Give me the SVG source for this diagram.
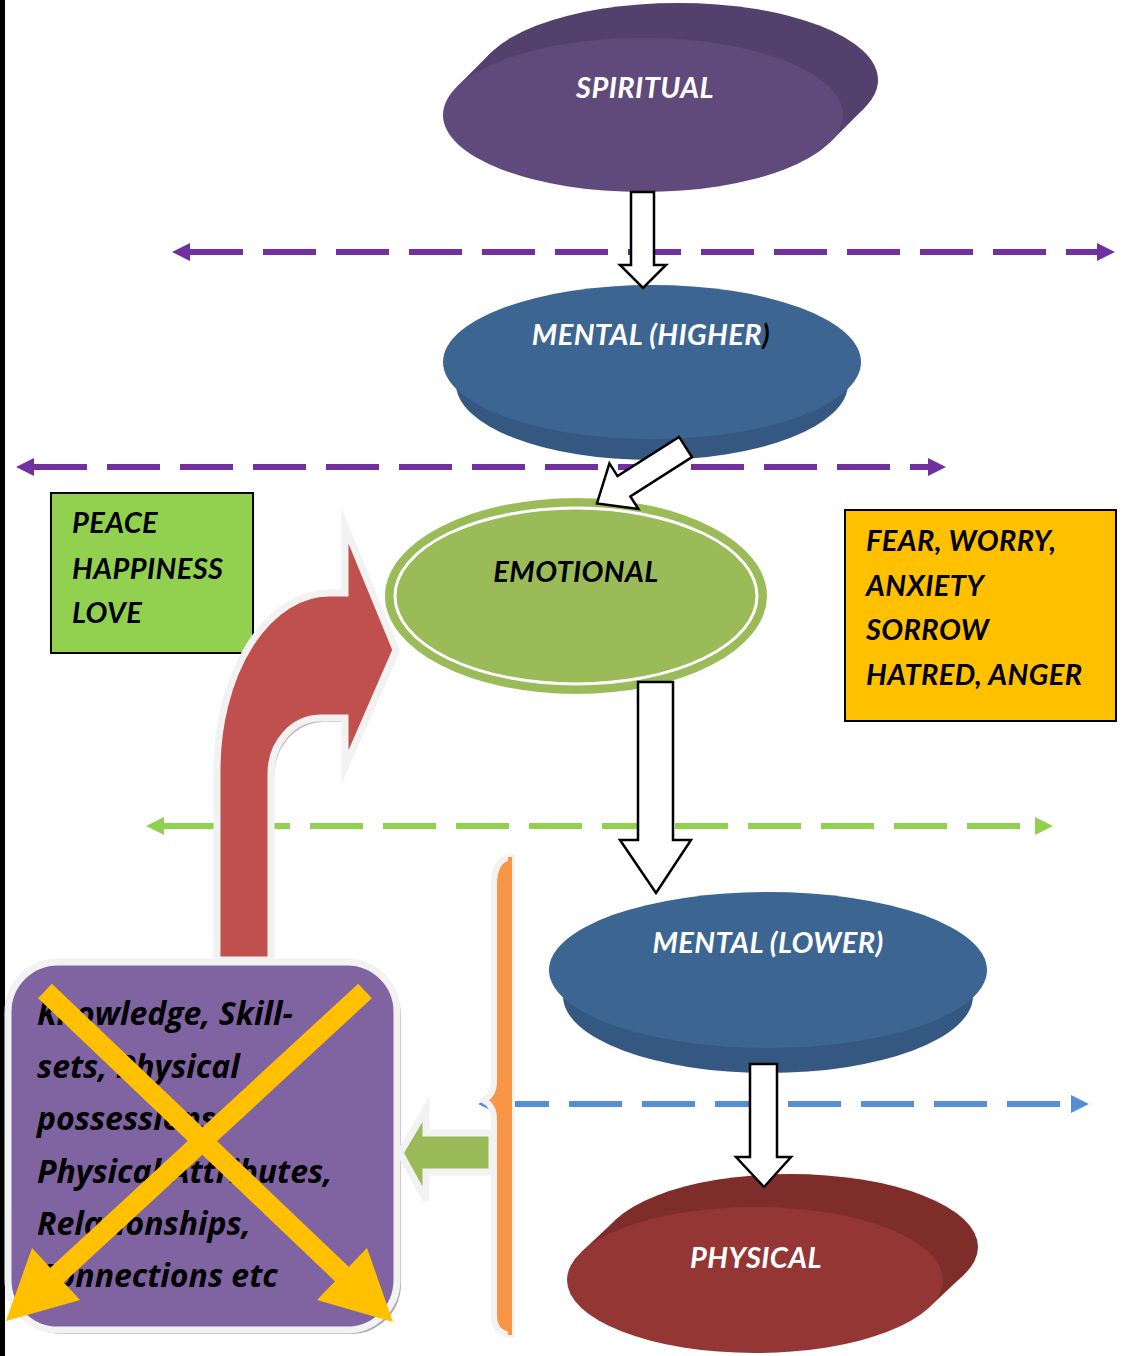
<svg xmlns="http://www.w3.org/2000/svg" width="1123" height="1356" viewBox="0 0 1123 1356">
<style>
.lbl{font-family:Lato,"Liberation Sans",sans-serif;font-weight:700;font-style:italic;font-size:29px;letter-spacing:0.4px}
.body{font-family:"Open Sans","Liberation Sans",sans-serif;font-weight:700;font-style:italic;font-size:32px}
.w{fill:#ffffff}
.k{fill:#000000}
.dash{fill:none;stroke-width:6;stroke-dasharray:53 20}
.blk{fill:#ffffff;stroke:#000000;stroke-width:2.5;stroke-linejoin:miter}
.box{stroke:#000000;stroke-width:2}
</style>
<defs>
<marker id="ahP" markerUnits="userSpaceOnUse" markerWidth="20" markerHeight="20" refX="0" refY="9" orient="auto-start-reverse"><path d="M0,0 L18,9 L0,18 Z" fill="#7030a0"/></marker>
<marker id="ahG" markerUnits="userSpaceOnUse" markerWidth="20" markerHeight="20" refX="0" refY="9" orient="auto-start-reverse"><path d="M0,0 L18,9 L0,18 Z" fill="#92d050"/></marker>
<marker id="ahB" markerUnits="userSpaceOnUse" markerWidth="20" markerHeight="20" refX="0" refY="9" orient="auto-start-reverse"><path d="M0,0 L18,9 L0,18 Z" fill="#558ed5"/></marker>
</defs>
<rect x="0" y="0" width="1123" height="1356" fill="#ffffff"/>
<rect x="0" y="0" width="5" height="1356" fill="#000000"/>

<g id="connectors-dashed">
<line class="dash" x1="190" y1="252" x2="1097" y2="252" stroke="#7030a0" marker-start="url(#ahP)" marker-end="url(#ahP)"/>
<line class="dash" x1="34" y1="467" x2="928" y2="467" stroke="#7030a0" marker-start="url(#ahP)" marker-end="url(#ahP)"/>
<line class="dash" x1="164" y1="826" x2="1035" y2="826" stroke="#92d050" marker-start="url(#ahG)" marker-end="url(#ahG)"/>
<line class="dash" x1="496" y1="1104" x2="1071" y2="1104" stroke="#558ed5" marker-start="url(#ahB)" marker-end="url(#ahB)"/>
</g>

<g id="spiritual">
<ellipse cx="678" cy="80" rx="200" ry="77" fill="#54406c"/>
<polygon points="829.6,142.7 864.6,107.7 491.4,52.3 456.4,87.3" fill="#54406c"/>
<ellipse cx="643" cy="115" rx="200" ry="77" fill="#604a7b"/>
<text class="lbl w" x="645" y="98" text-anchor="middle">SPIRITUAL</text>
</g>

<g id="mental-higher">
<ellipse cx="652" cy="384" rx="196" ry="76" fill="#355883"/>
<polygon points="443,362 456,384 848,384 861,362" fill="#355883"/>
<ellipse cx="652" cy="362" rx="209" ry="77" fill="#3d6592"/>
<text class="lbl" x="651" y="345" text-anchor="middle"><tspan class="w">MENTAL (HIGHER</tspan><tspan class="k">)</tspan></text>
</g>

<g id="peace">
<rect class="box" x="51" y="493" width="202" height="160" fill="#92d050"/>
<text class="lbl k" x="72" y="533">PEACE</text>
<text class="lbl k" x="72" y="579">HAPPINESS</text>
<text class="lbl k" x="72" y="623">LOVE</text>
</g>

<g id="emotional">
<ellipse cx="576" cy="596" rx="191" ry="98" fill="#9bbb59"/>
<ellipse cx="576" cy="596" rx="181" ry="88" fill="none" stroke="#ffffff" stroke-width="3"/>
<text class="lbl k" x="576" y="582" text-anchor="middle">EMOTIONAL</text>
</g>

<g id="fear">
<rect class="box" x="845" y="510" width="271" height="211" fill="#ffc000"/>
<text class="lbl k" x="866" y="551">FEAR, WORRY,</text>
<text class="lbl k" x="866" y="596">ANXIETY</text>
<text class="lbl k" x="866" y="640">SORROW</text>
<text class="lbl k" x="866" y="685">HATRED, ANGER</text>
</g>

<g id="mental-lower">
<ellipse cx="768" cy="996" rx="205" ry="77" fill="#355883"/>
<polygon points="549,970 563,996 973,996 987,970" fill="#355883"/>
<ellipse cx="768" cy="970" rx="219" ry="78" fill="#3d6592"/>
<text class="lbl w" x="768" y="953" text-anchor="middle">MENTAL (LOWER)</text>
</g>

<g id="physical">
<ellipse cx="790" cy="1247" rx="188" ry="73" fill="#7f2d2b"/>
<polygon points="928.8,1307.8 963.8,1274.8 616.2,1219.2 581.2,1252.2" fill="#7f2d2b"/>
<ellipse cx="755" cy="1280" rx="188" ry="73" fill="#943634"/>
<text class="lbl w" x="756" y="1268" text-anchor="middle">PHYSICAL</text>
</g>

<g id="brace">
<path d="M512,857 C500,858 494,868 494,885 L494,1082 C494,1092 489,1098 483,1100 C489,1103 494,1109 494,1119 L494,1315 C494,1328 500,1334 512,1335 Z" fill="#f79646" stroke="#f2f2f2" stroke-width="6" stroke-linejoin="round"/>
<line x1="510" y1="857" x2="510" y2="1335" stroke="#f79646" stroke-width="4"/>
</g>

<g id="possessions">
<rect x="12" y="966" width="389" height="368" rx="50" fill="#a9a9b0"/>
<rect x="8" y="962" width="389" height="368" rx="50" fill="#8064a2" stroke="#f2f2f2" stroke-width="7"/>
<text class="body k" x="37" y="1025">Knowledge, Skill-</text>
<text class="body k" x="37" y="1078">sets, Physical</text>
<text class="body k" x="37" y="1130">possessions,</text>
<text class="body k" x="37" y="1183">Physical Attributes,</text>
<text class="body k" x="37" y="1235">Relationships,</text>
<text class="body k" x="37" y="1287">Connections etc</text>
<g fill="#ffc000" stroke="none">
<path d="M45,991 L345,1277" stroke="#ffc000" stroke-width="20"/>
<polygon points="317,1300 393,1322 367,1248"/>
<path d="M365,991 L56,1276" stroke="#ffc000" stroke-width="20"/>
<polygon points="80,1300 6,1321 32,1248"/>
</g>
</g>

<g id="connectors-arrows">
<path d="M631,192 L654,192 L654,265 L666,265 L643,288 L620,265 L631,265 Z" class="blk"/>
<path transform="translate(685.5,447) rotate(147.5)" d="M0,-12 L73,-12 L73,-27 L105,0 L73,27 L73,12 L0,12 Z" class="blk"/>
<path d="M638,682 L673,682 L673,840 L691,840 L656,893 L620,840 L638,840 Z" class="blk"/>
<path d="M750,1064 L777,1064 L777,1157 L791,1157 L764,1187 L736,1157 L750,1157 Z" class="blk"/>
<path d="M221,963 L221,770 A112,177 0 0 1 333,596 L347,596 L347,529 L399,652 L347,770 L347,722 L322,722 A50,55 0 0 0 274,777 L274,963 Z" fill="#bba0a0" opacity="0.8"/>
<path d="M217,960 L217,770 A112,177 0 0 1 329,593 L345,593 L345,526 L396,650 L345,767 L345,718 L320,718 A50,55 0 0 0 271,773 L271,960 Z" fill="#c0504d" stroke="#f2f2f2" stroke-width="7" stroke-linejoin="miter" stroke-miterlimit="10"/>
<path d="M400,1153 L426,1109 L426,1133 L492,1133 L492,1172 L426,1172 L426,1200 Z" fill="#9bbb59" stroke="#f2f2f2" stroke-width="7"/>
</g>
</svg>
